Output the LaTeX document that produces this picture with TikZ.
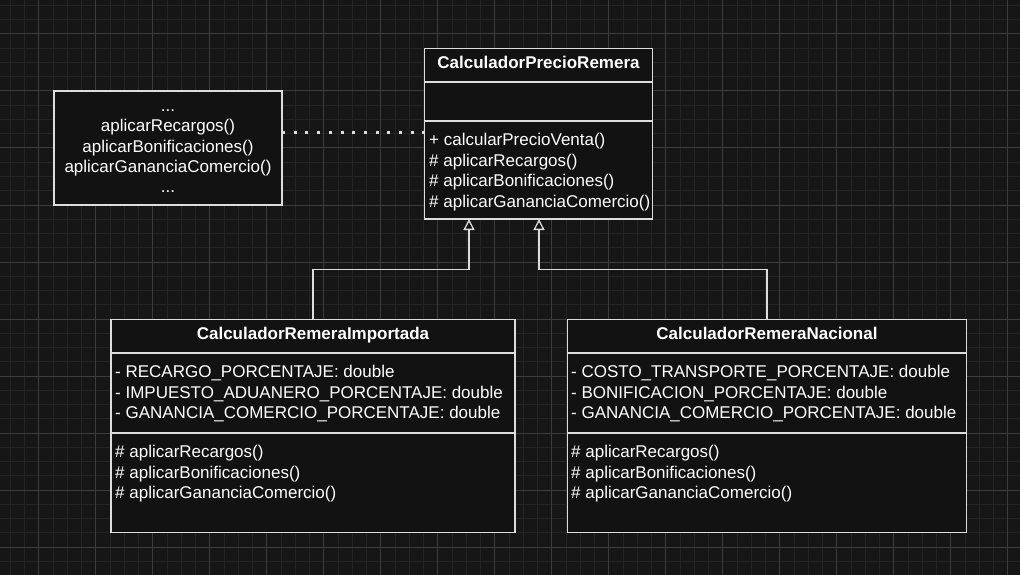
\documentclass[tikz,border=0pt]{standalone}
\usepackage{fontspec}
\setmainfont{Liberation Sans}
\usetikzlibrary{arrows.meta}
\definecolor{canvas}{HTML}{161616}
\definecolor{boxfill}{HTML}{121212}
\definecolor{gridminor}{HTML}{242424}
\definecolor{gridmajor}{HTML}{3C3C3C}
\definecolor{edge}{HTML}{DDDDDD}

\begin{document}
\begin{tikzpicture}[x=1pt,y=-1pt,
  umlbox/.style={draw=edge, fill=boxfill, line width=1.3pt, rectangle,
    anchor=north west, inner sep=0pt, outer sep=0pt},
  member/.style={anchor=base west, inner sep=0pt, text=white,
    font=\fontsize{17}{20.4}\selectfont},
  classname/.style={anchor=base, inner sep=0pt, text=white,
    font=\fontsize{17}{20.4}\selectfont\bfseries},
  notetext/.style={anchor=base, inner sep=0pt, text=white,
    font=\fontsize{17}{20.4}\selectfont},
  divider/.style={draw=edge, line width=1.3pt},
  inherit/.style={draw=edge, line width=1.3pt,
    -{Triangle[length=11pt,width=11pt,fill=boxfill]}},
  dotlink/.style={draw=edge, line width=3pt, dash pattern=on 3pt off 8.7pt}
]
% canvas and grid
\useasboundingbox (0,0) rectangle (1020,575);
\fill[canvas] (0,0) rectangle (1020,575);
\foreach \i in {0,...,70} {\draw[gridminor, line width=1pt] ({10.3+\i*14.25},0) -- ++(0,575);}
\foreach \j in {0,...,40} {\draw[gridminor, line width=1pt] (0,{5.5+\j*14.25}) -- ++(1020,0);}
\foreach \i in {0,...,17} {\draw[gridmajor, line width=1pt] ({38.8+\i*57},0) -- ++(0,575);}
\foreach \j in {0,...,9} {\draw[gridmajor, line width=1pt] (0,{34+\j*57}) -- ++(1020,0);}

% class boxes
\node[umlbox, minimum width=228pt, minimum height=170.5pt] (top) at (424.5,48.5) {};
\node[umlbox, minimum width=228pt, minimum height=114pt] (note) at (54,91) {};
\node[umlbox, minimum width=404pt, minimum height=213pt] (imp) at (111,319.3) {};
\node[umlbox, minimum width=399.4pt, minimum height=213pt] (nac) at (567.3,319.3) {};

% compartment dividers
\draw[divider] (top.west |- 0,82) -- (top.east |- 0,82);
\draw[divider] (top.west |- 0,121) -- (top.east |- 0,121);
\draw[divider] (imp.west |- 0,353) -- (imp.east |- 0,353);
\draw[divider] (imp.west |- 0,433) -- (imp.east |- 0,433);
\draw[divider] (nac.west |- 0,353) -- (nac.east |- 0,353);
\draw[divider] (nac.west |- 0,433) -- (nac.east |- 0,433);

% abstract class
\node[classname] (topname) at (538.5,68.5) {CalculadorPrecioRemera};
\node[member] (tm1) at (429,145.5) {+ calcularPrecioVenta()};
\node[member] (tm2) at (429,166) {\# aplicarRecargos()};
\node[member] (tm3) at (429,186.5) {\# aplicarBonificaciones()};
\node[member] (tm4) at (429,207) {\# aplicarGananciaComercio()};

% note
\node[notetext] (n1) at (168,111.3) {...};
\node[notetext] (n2) at (168,131.7) {aplicarRecargos()};
\node[notetext] (n3) at (168,152.1) {aplicarBonificaciones()};
\node[notetext] (n4) at (168,172.5) {aplicarGananciaComercio()};
\node[notetext] (n5) at (168,192.9) {...};

% imported
\node[classname] (impname) at (313,339.3) {CalculadorRemeraImportada};
\node[member] (ia1) at (115,377.7) {- RECARGO\_PORCENTAJE: double};
\node[member] (ia2) at (115,398.2) {- IMPUESTO\_ADUANERO\_PORCENTAJE: double};
\node[member] (ia3) at (115,418.7) {- GANANCIA\_COMERCIO\_PORCENTAJE: double};
\node[member] (im1) at (115,457.7) {\# aplicarRecargos()};
\node[member] (im2) at (115,478.2) {\# aplicarBonificaciones()};
\node[member] (im3) at (115,498.7) {\# aplicarGananciaComercio()};

% national
\node[classname] (nacname) at (767,339.3) {CalculadorRemeraNacional};
\node[member] (na1) at (571,377.7) {- COSTO\_TRANSPORTE\_PORCENTAJE: double};
\node[member] (na2) at (571,398.2) {- BONIFICACION\_PORCENTAJE: double};
\node[member] (na3) at (571,418.7) {- GANANCIA\_COMERCIO\_PORCENTAJE: double};
\node[member] (nm1) at (571,457.7) {\# aplicarRecargos()};
\node[member] (nm2) at (571,478.2) {\# aplicarBonificaciones()};
\node[member] (nm3) at (571,498.7) {\# aplicarGananciaComercio()};

% generalization arrows
\coordinate (bendL) at (469,269.3);
\coordinate (bendR) at (539,269.3);
\draw[inherit] (imp.north) |- (bendL) -- (bendL |- top.south);
\draw[inherit] (nac.north) |- (bendR) -- (bendR |- top.south);

% note link
\draw[dotlink] (note.east |- 0,132.7) -- (top.west |- 0,132.7);
\end{tikzpicture}
\end{document}
